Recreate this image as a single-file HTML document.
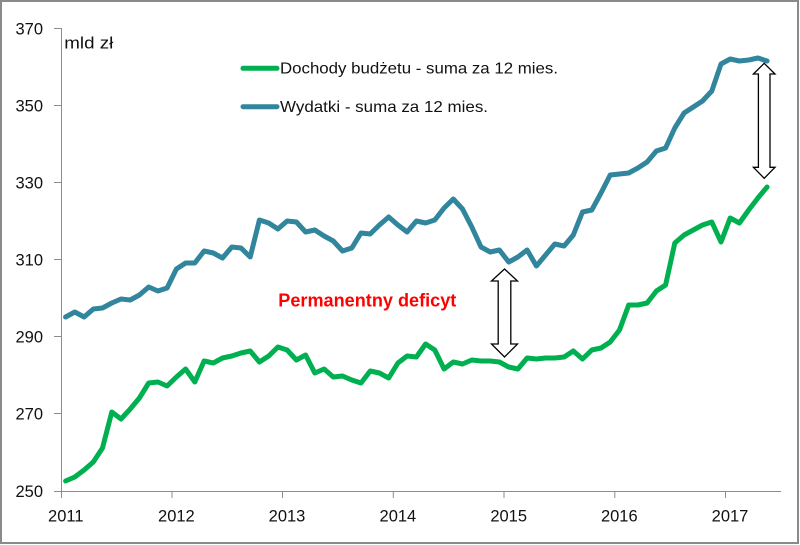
<!DOCTYPE html>
<html>
<head>
<meta charset="utf-8">
<style>
html,body{margin:0;padding:0;background:#fff;}
svg{display:block;}
text{font-family:"Liberation Sans",sans-serif;}
</style>
</head>
<body>
<svg width="800" height="545" viewBox="0 0 800 545" xmlns="http://www.w3.org/2000/svg">
<rect x="0" y="0" width="800" height="545" fill="#fff"/>
<rect x="1" y="1" width="797" height="542" fill="none" stroke="#8a8a8a" stroke-width="2"/>

<!-- axes -->
<g stroke="#8c8c8c" stroke-width="1" fill="none">
<line x1="61.5" y1="28" x2="61.5" y2="491.5"/>
<line x1="61" y1="491.5" x2="781" y2="491.5"/>
<line x1="54" y1="28.5" x2="61.5" y2="28.5"/>
<line x1="54" y1="105.5" x2="61.5" y2="105.5"/>
<line x1="54" y1="182.5" x2="61.5" y2="182.5"/>
<line x1="54" y1="259.5" x2="61.5" y2="259.5"/>
<line x1="54" y1="336.5" x2="61.5" y2="336.5"/>
<line x1="54" y1="413.5" x2="61.5" y2="413.5"/>
<line x1="54" y1="491.5" x2="61.5" y2="491.5"/>
<line x1="61.5" y1="491" x2="61.5" y2="498"/>
<line x1="172" y1="491" x2="172" y2="498"/>
<line x1="282.5" y1="491" x2="282.5" y2="498"/>
<line x1="393.3" y1="491" x2="393.3" y2="498"/>
<line x1="504" y1="491" x2="504" y2="498"/>
<line x1="614.8" y1="491" x2="614.8" y2="498"/>
<line x1="725.5" y1="491" x2="725.5" y2="498"/>
</g>

<!-- y labels -->
<g font-size="16.5" fill="#111" text-anchor="end">
<text x="43" y="34.5">370</text>
<text x="43" y="111.5">350</text>
<text x="43" y="188.5">330</text>
<text x="43" y="265.5">310</text>
<text x="43" y="342.5">290</text>
<text x="43" y="419.5">270</text>
<text x="43" y="497">250</text>
</g>
<!-- x labels -->
<g font-size="16.5" fill="#111" text-anchor="middle">
<text x="65.8" y="521.5">2011</text>
<text x="176.4" y="521.5">2012</text>
<text x="287" y="521.5">2013</text>
<text x="397.9" y="521.5">2014</text>
<text x="508.7" y="521.5">2015</text>
<text x="619.3" y="521.5">2016</text>
<text x="730" y="521.5">2017</text>
</g>

<text x="64.3" y="48.3" font-size="16.5" fill="#111" textLength="49" lengthAdjust="spacingAndGlyphs">mld zł</text>

<!-- legend -->
<line x1="243" y1="68.3" x2="277" y2="68.3" stroke="#00B050" stroke-width="5" stroke-linecap="round"/>
<text x="280" y="73.5" font-size="16" fill="#111" textLength="278" lengthAdjust="spacingAndGlyphs">Dochody budżetu - suma za 12 mies.</text>
<line x1="243" y1="106.7" x2="277" y2="106.7" stroke="#31859C" stroke-width="5" stroke-linecap="round"/>
<text x="280" y="112" font-size="16" fill="#111" textLength="208" lengthAdjust="spacingAndGlyphs">Wydatki - suma za 12 mies.</text>

<text x="278.3" y="306.5" font-size="18" font-weight="bold" fill="#FF0000" textLength="178" lengthAdjust="spacingAndGlyphs">Permanentny deficyt</text>

<!-- blue series -->
<polyline fill="none" stroke="#31859C" stroke-width="5" stroke-linejoin="round" stroke-linecap="round" points="
65.6,317 74.8,312 84.1,317 93.3,309 102.5,308 111.8,303 121.0,299 130.2,300 139.4,295 148.7,287 157.9,291 167.1,288
176.4,269 185.6,263 194.8,263 204.1,251 213.3,253 222.5,258 231.8,247 241.0,248 250.2,257 259.4,220 268.7,223 277.9,229
287.1,221 296.4,222 305.6,232 314.8,230 324.1,236 333.3,241 342.5,251 351.8,248 361.0,233 370.2,234 379.4,225 388.7,217
397.9,225 407.1,232 416.4,221 425.6,223 434.8,220 444.1,208 453.3,199 462.5,209 471.8,227 481.0,247 490.2,252 499.4,250
508.7,262 517.9,257 527.1,250 536.4,266 545.6,255 554.8,244 564.1,246 573.3,235 582.5,212 591.8,210 601.0,193 610.2,175
619.5,174 628.7,173 637.9,168 647.1,162 656.4,151 665.6,148 674.8,128 684.1,113 693.3,107 702.5,101 711.8,91 721.0,64
730.2,59 739.4,61 748.7,60 757.9,58 767.1,61"/>

<!-- green series -->
<polyline fill="none" stroke="#00B050" stroke-width="5" stroke-linejoin="round" stroke-linecap="round" points="
65.6,481 74.8,477 84.1,470 93.3,462 102.5,448 111.8,412 121.0,419 130.2,409 139.4,398 148.7,383 157.9,382 167.1,386
176.4,377 185.6,369 194.8,382 204.1,361 213.3,363 222.5,358 231.8,356 241.0,353 250.2,351 259.4,362 268.7,356 277.9,347
287.1,350 296.4,360 305.6,355 314.8,373 324.1,369 333.3,377 342.5,376 351.8,380 361.0,383 370.2,371 379.4,373 388.7,378
397.9,363 407.1,356 416.4,357 425.6,344 434.8,350 444.1,369 453.3,362 462.5,364 471.8,360 481.0,361 490.2,361 499.4,362
508.7,367 517.9,369 527.1,358 536.4,359 545.6,358 554.8,358 564.1,357 573.3,351 582.5,359 591.8,350 601.0,348 610.2,342
619.5,330 628.7,305 637.9,305 647.1,303 656.4,291 665.6,285 674.8,243 684.1,235 693.3,230 702.5,225 711.8,222 721.0,242
730.2,218 739.4,223 748.7,210 757.9,198 767.1,187"/>

<!-- arrows -->
<polygon fill="#fff" stroke="#000" stroke-width="1.3" stroke-linejoin="miter" points="504.5,269 517.5,281 510.8,281 510.8,344 517.5,344 504.5,357 491.5,344 498.2,344 498.2,281 491.5,281"/>
<polygon fill="#fff" stroke="#000" stroke-width="1.3" stroke-linejoin="miter" points="764.2,63.3 775,74 770,74 770,167.3 775,167.3 764.2,178.3 753.4,167.3 758.4,167.3 758.4,74 753.4,74"/>
</svg>
</body>
</html>
